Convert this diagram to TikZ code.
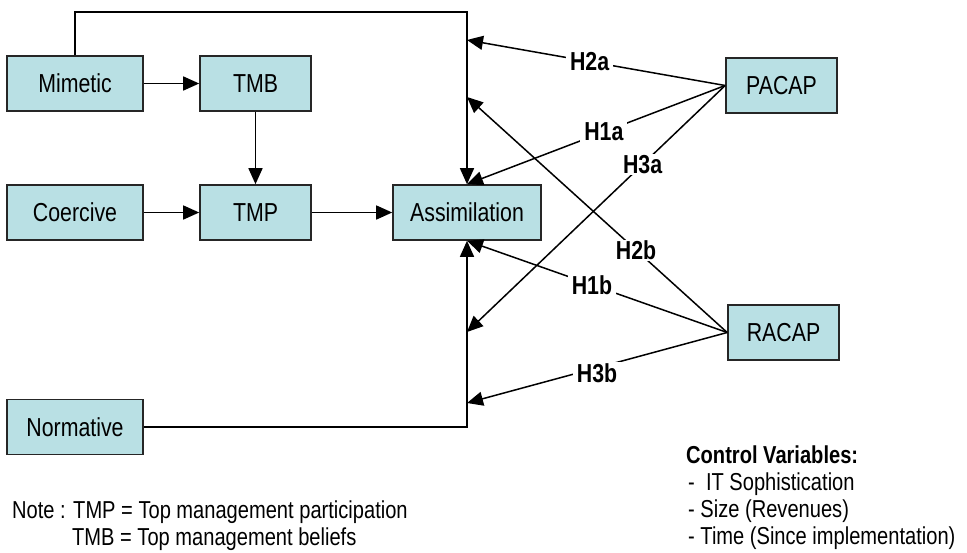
\documentclass[tikz,border=0pt]{standalone}
\usepackage{fontspec}
\setmainfont[FakeStretch=0.82]{Liberation Sans}
\usetikzlibrary{arrows.meta}
\definecolor{boxfill}{RGB}{185,224,228}
\begin{document}
\begin{tikzpicture}[x=1pt,y=-1pt,
  box/.style={draw=black!85, line width=1.6pt, fill=boxfill, minimum height=55pt, inner sep=0pt, font=\fontsize{26}{30}\selectfont},
  widebox/.style={box, minimum width=136pt},
  midbox/.style={box, minimum width=111pt},
  conn/.style={line width=1.5pt, -{Triangle[length=16pt,width=14pt]}},
  hyp/.style={fill=white, inner xsep=4pt, inner ysep=1pt, font=\bfseries\fontsize{26}{30}\selectfont},
  txt/.style={inner sep=0pt, anchor=base west, font=\fontsize{24.5}{27}\selectfont}]
\useasboundingbox (0,0) rectangle (967,552);

% boxes
\node[widebox] (mim) at (75,83.5) {Mimetic};
\node[midbox] (tmb) at (255.5,83.5) {TMB};
\node[widebox] (coe) at (75,212.5) {Coercive};
\node[midbox] (tmp) at (255.5,212.5) {TMP};
\node[box, minimum width=148pt] (ass) at (467,212.5) {Assimilation};
\node[widebox] (nor) at (75,427) {Normative};
\node[midbox] (pac) at (781.5,85.5) {PACAP};
\node[midbox] (rac) at (783.5,332.5) {RACAP};

% helper points on the vertical line
\coordinate (tr) at (467,12);
\coordinate (br) at (467,427);
\coordinate (h2a) at (467,40);
\coordinate (h2b) at (467,97);
\coordinate (h3a) at (467,332);
\coordinate (h3b) at (467,403);

% main connectors
\draw[conn] (mim) -- (tmb);
\draw[conn] (tmb) -- (tmp);
\draw[conn] (coe) -- (tmp);
\draw[conn] (tmp) -- (ass);
\draw[conn] (mim.north) |- (tr) -- (ass.north);
\draw[conn] (nor.east) -- (br) -- (ass.south);

% hypotheses
\draw[conn] (pac.west) -- node[hyp, pos=0.525] {H2a} (h2a);
\draw[conn] (pac.west) -- node[hyp, pos=0.47] {H1a} (ass.north);
\draw[conn] (pac.west) -- node[hyp, pos=0.32] {H3a} (h3a);
\draw[conn] (rac.west) -- node[hyp, pos=0.35] {H2b} (h2b);
\draw[conn] (rac.west) -- node[hyp, pos=0.52] {H1b} (ass.south);
\draw[conn] (rac.west) -- node[hyp, pos=0.5, yshift=-5pt] {H3b} (h3b);

% notes
\node[txt] (note1) at (12,518) {Note : TMP = Top management participation};
\node[txt] (note2) at (72,545) {TMB = Top management beliefs};

\node[txt, font=\bfseries\fontsize{24.5}{27}\selectfont] (cv0) at (686,463) {Control Variables:};
\node[txt] (cv1) at (688,490) {-\ \ IT Sophistication};
\node[txt] (cv2) at (688,517) {- Size (Revenues)};
\node[txt] (cv3) at (688,544) {- Time (Since implementation)};
\end{tikzpicture}
\end{document}
